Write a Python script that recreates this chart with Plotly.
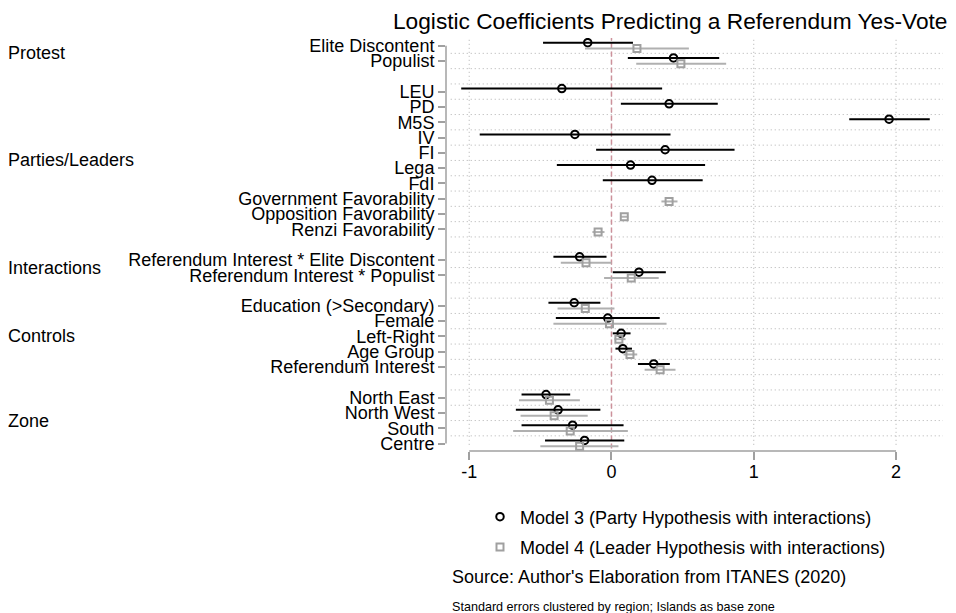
import plotly.graph_objects as go

# ---------------- data ----------------
group_names = ["Protest", "Parties/Leaders", "Interactions", "Controls", "Zone"]
group_items = [
    ["Elite Discontent", "Populist"],
    ["LEU", "PD", "M5S", "IV", "FI", "Lega", "FdI",
     "Government Favorability", "Opposition Favorability", "Renzi Favorability"],
    ["Referendum Interest * Elite Discontent", "Referendum Interest * Populist"],
    ["Education (>Secondary)", "Female", "Left-Right", "Age Group", "Referendum Interest"],
    ["North East", "North West", "South", "Centre"],
]

# Model 3 (Party Hypothesis with interactions): coefficient, CI low, CI high
m3_coef = [-0.167, 0.436,
           -0.349, 0.405, 1.951, -0.257, 0.377, 0.134, 0.285, None, None, None,
           -0.224, 0.193,
           -0.262, -0.026, 0.068, 0.080, 0.297,
           -0.460, -0.375, -0.273, -0.189]
m3_lo = [-0.481, 0.115,
         -1.056, 0.066, 1.671, -0.926, -0.108, -0.384, -0.061, None, None, None,
         -0.408, 0.009,
         -0.443, -0.391, 0.009, 0.028, 0.186,
         -0.632, -0.672, -0.632, -0.467]
m3_hi = [0.151, 0.757,
         0.356, 0.747, 2.237, 0.415, 0.865, 0.658, 0.641, None, None, None,
         -0.035, 0.382,
         -0.078, 0.339, 0.134, 0.144, 0.410,
         -0.290, -0.078, 0.085, 0.090]

# Model 4 (Leader Hypothesis with interactions)
m4_coef = [0.179, 0.488,
           None, None, None, None, None, None, None, 0.405, 0.090, -0.094,
           -0.179, 0.139,
           -0.184, -0.014, 0.052, 0.130, 0.342,
           -0.436, -0.403, -0.290, -0.224]
m4_lo = [-0.186, 0.174,
         None, None, None, None, None, None, None, 0.351, 0.064, -0.134,
         -0.356, -0.052,
         -0.379, -0.408, 0.021, 0.085, 0.233,
         -0.650, -0.639, -0.691, -0.500]
m4_hi = [0.544, 0.806,
         None, None, None, None, None, None, None, 0.464, 0.118, -0.049,
         0.000, 0.332,
         0.021, 0.387, 0.099, 0.181, 0.450,
         -0.222, -0.167, 0.115, 0.049]

x_ticks = [-1, 0, 1, 2]
x_ticktext = ["-1", "0", "1", "2"]

title_text = "Logistic Coefficients Predicting a Referendum Yes-Vote"
legend_names = ["Model 3 (Party Hypothesis with interactions)",
                "Model 4 (Leader Hypothesis with interactions)"]
source_text = "Source: Author's Elaboration from ITANES (2020)"
note_text = "Standard errors clustered by region; Islands as base zone"

# ---------------- layout of rows ----------------
labels, rows, group_centers = [], [], []
r = 0
for gi, items in enumerate(group_items):
    if gi > 0:
        r += 1
    start = r + 1
    for it in items:
        r += 1
        labels.append(it)
        rows.append(r)
    group_centers.append((start + r) / 2)
n_rows = r

FONT = "Liberation Sans, Arial, Helvetica, sans-serif"
GRAY = "#a0a0a0"
BLACK = "#000000"
off3, off4 = -0.2, 0.18

# the page body adds an 8px margin, so the figure is 8px smaller than the window
W, H = 948, 605

fig = go.Figure()


def add_model(coef, lo, hi, off, color, symbol, name, lcolor, size):
    xs, ys, ep, em = [], [], [], []
    for c, l, h, rr in zip(coef, lo, hi, rows):
        if c is None:
            continue
        xs.append(c)
        ys.append(rr + off)
        ep.append(h - c)
        em.append(c - l)
    fig.add_trace(go.Scatter(
        x=xs, y=ys, mode="markers", name=name,
        marker=dict(symbol=symbol, size=size, color=color,
                    line=dict(color=color, width=2)),
        error_x=dict(type="data", symmetric=False, array=ep, arrayminus=em,
                     color=lcolor, thickness=2, width=0),
        legendgroup=name,
    ))


add_model(m3_coef, m3_lo, m3_hi, off3, BLACK, "circle-open", legend_names[0], BLACK, 7.5)
add_model(m4_coef, m4_lo, m4_hi, off4, GRAY, "square-open", legend_names[1], "#b0b0b0", 7)

shapes = []
# horizontal dotted grid lines between rows
for k in range(1, n_rows):
    shapes.append(dict(type="line", xref="paper", yref="y", x0=0.0095, x1=1,
                       y0=k + 0.5, y1=k + 0.5,
                       line=dict(color="#b0b0b0", width=1, dash="1px,3px"), layer="below"))
# vertical dotted grid lines at ticks
for t in x_ticks:
    shapes.append(dict(type="line", xref="x", yref="paper", x0=t, x1=t, y0=0.015, y1=1,
                       line=dict(color="#b0b0b0", width=1, dash="1px,3px"), layer="below"))
# reference line at zero
shapes.append(dict(type="line", xref="x", yref="paper", x0=0, x1=0, y0=0.006, y1=1,
                   line=dict(color="rgb(205,145,155)", width=1.5, dash="5px,3px"), layer="below"))
# y axis line (from first to last row)
shapes.append(dict(type="line", xref="paper", yref="y", x0=0, x1=0,
                   y0=rows[0], y1=rows[-1], line=dict(color=GRAY, width=1.5)))
# x axis line (from first to last tick)
shapes.append(dict(type="line", xref="x", yref="paper", x0=x_ticks[0], x1=x_ticks[-1],
                   y0=0, y1=0, line=dict(color=GRAY, width=1.5)))

annotations = []
for g, c in zip(group_names, group_centers):
    annotations.append(dict(text=g, xref="paper", yref="y", x=-0.886, y=c,
                            xanchor="left", yanchor="middle", showarrow=False,
                            font=dict(family=FONT, size=18, color="black")))
annotations.append(dict(text=source_text, xref="paper", yref="paper", x=0.0075, y=-0.305,
                        xanchor="left", yanchor="middle", showarrow=False,
                        font=dict(family=FONT, size=18, color="black")))
annotations.append(dict(text=note_text, xref="paper", yref="paper", x=0.0075, y=-0.377,
                        xanchor="left", yanchor="middle", showarrow=False,
                        font=dict(family=FONT, size=12.6, color="black")))

fig.update_layout(
    width=W, height=H,
    margin=dict(l=438, r=13, t=30, b=162, autoexpand=False),
    paper_bgcolor="white", plot_bgcolor="white",
    title=dict(text=title_text, x=(393 - 8) / W, xanchor="left",
               y=1 - (21.5 - 8) / H, yanchor="middle",
               font=dict(family=FONT, size=22.7, color="black")),
    font=dict(family=FONT, size=18, color="black"),
    xaxis=dict(range=[-1.163, 2.330], tickvals=x_ticks, ticktext=x_ticktext,
               showgrid=False, zeroline=False, showline=False,
               ticks="outside", ticklen=8, tickcolor=GRAY, tickwidth=1.5,
               ticklabelstandoff=-4,
               tickfont=dict(family=FONT, size=18, color="black"), fixedrange=True),
    yaxis=dict(range=[n_rows + 0.49, 0.497], tickvals=rows, ticktext=labels,
               showgrid=False, zeroline=False, showline=False,
               ticks="outside", ticklen=7, tickcolor=GRAY, tickwidth=1.5,
               tickfont=dict(family=FONT, size=18, color="black"), fixedrange=True),
    shapes=shapes,
    annotations=annotations,
    showlegend=True,
    legend=dict(x=(480 - 446) / 497, xanchor="left", y=-0.115, yanchor="top",
                font=dict(family=FONT, size=18, color="black"),
                bgcolor="rgba(0,0,0,0)", traceorder="grouped", tracegroupgap=4),
)

fig.write_html("out.html")
